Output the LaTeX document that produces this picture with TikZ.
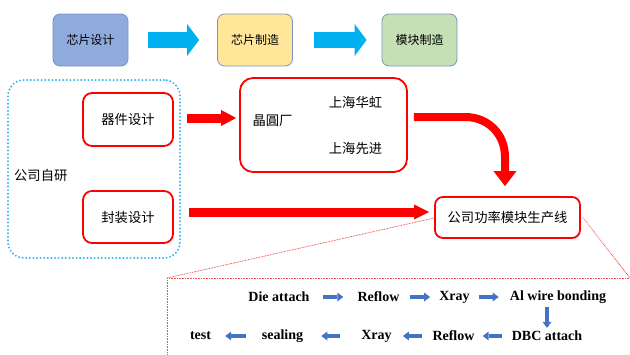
\documentclass[tikz,border=0pt]{standalone}
\usepackage{fontspec}
\setmainfont{Liberation Serif}
\newfontfamily\cjk{Noto Sans CJK SC}
\usetikzlibrary{arrows.meta,calc}
\definecolor{bonefill}{HTML}{8FAADC}
\definecolor{btwofill}{HTML}{FFE699}
\definecolor{bthreefill}{HTML}{C5E0B4}
\definecolor{topborder}{HTML}{7A93C2}
\definecolor{cyanarrow}{HTML}{00B0F0}
\definecolor{smallarrow}{HTML}{4472C4}
\definecolor{dotblue}{HTML}{33B5F0}
\definecolor{dotred}{HTML}{F05050}
\tikzset{
  topbox/.style={draw=topborder, line width=0.8pt, rounded corners=7pt,
    minimum width=75pt, minimum height=52pt, inner sep=0pt,
    font=\cjk\fontsize{12}{14}\selectfont},
  redbox/.style={draw=red, line width=1.8pt, rounded corners=9pt, inner sep=0pt},
  cjktext/.style={font=\cjk\fontsize{13.3}{16}\selectfont, inner sep=0pt},
  entext/.style={font=\bfseries\fontsize{14}{16}\selectfont, inner sep=0pt},
  bluearrow/.style={draw=cyanarrow, line width=16pt,
    -{Triangle[length=12pt,width=32pt,line width=0pt]}},
  redarrow/.style={draw=red, line width=9pt,
    -{Triangle[length=15pt,width=16pt,line width=0pt]}},
  smallarr/.style={draw=smallarrow, line width=4pt,
    -{Triangle[length=6pt,width=9pt,line width=0pt]}},
}
\begin{document}
\begin{tikzpicture}[x=1pt,y=-1pt]
\useasboundingbox (0,0) rectangle (630,354);
\clip (0,0) rectangle (630,354);
% top row
\node[topbox, fill=bonefill] (b1) at (90.5,40) {芯片设计};
\node[topbox, fill=btwofill] (b2) at (255,40) {芯片制造};
\node[topbox, fill=bthreefill] (b3) at (419.5,40) {模块制造};
\draw[bluearrow, shorten <=20pt, shorten >=18pt] (b1.east) -- (b2.west);
\draw[bluearrow, shorten <=21pt, shorten >=15pt] (b2.east) -- (b3.west);
% own design group
\node[draw=dotblue, line width=2.2pt, dash pattern=on 0pt off 3.6pt, line cap=round,
  rounded corners=16pt, minimum width=172pt, minimum height=178pt] (own) at (94,169) {};
\node[cjktext, anchor=west] (ownlbl) at (14,175) {公司自研};
\node[redbox, minimum width=90pt, minimum height=53pt, font=\cjk\fontsize{13.3}{16}\selectfont] (dev) at (128,119.5) {器件设计};
\node[redbox, minimum width=90pt, minimum height=52pt, font=\cjk\fontsize{13.3}{16}\selectfont] (pkg) at (128,217) {封装设计};
% fab
\node[redbox, rounded corners=13pt, minimum width=167pt, minimum height=94pt] (fab) at (323.5,125) {};
\node[cjktext] (fabl) at (272.5,121) {晶圓厂};
\node[cjktext] (hh) at (355.5,102) {上海华虹};
\node[cjktext] (xj) at (355.5,148) {上海先进};
% production line
\node[redbox, rounded corners=8pt, minimum width=145pt, minimum height=41pt, font=\cjk\fontsize{13.3}{16}\selectfont] (line) at (507.5,217.5) {公司功率模块生产线};
% red arrows
\draw[redarrow, shorten <=13pt, shorten >=3pt] ([yshift=1.5pt]dev.east) -- ([yshift=1.5pt]dev.east -| fab.west);
\draw[redarrow, -{Triangle[length=15pt,width=15pt,line width=0pt]}, shorten <=15pt, shorten >=5pt]
  ([yshift=5pt]pkg.east) -- ([yshift=5pt]pkg.east -| line.west);
\coordinate (cs) at ($(fab.east |- 0,117)+(6,0)$);
\coordinate (ce) at ($(line.north)+(-2.5,-10)$);
\draw[draw=red, line width=8pt, -{Triangle[length=15pt,width=23pt,line width=0pt]}]
  (cs) -- (465,117) .. controls (488,117) and (505,134) .. (505,157) -- (ce);
% zoom lines and dotted frame
\coordinate (fl) at (167,278);
\coordinate (fr) at (630,278);
\draw[dotred, line width=0.8pt, dash pattern=on 0.8pt off 0.8pt] (fl) -- ([yshift=-0.5pt]line.west);
\draw[dotred, line width=0.8pt, dash pattern=on 0.8pt off 0.8pt] ([xshift=2pt]line.east) -- (fr);
\draw[dotred, line width=0.9pt, dash pattern=on 0.8pt off 0.8pt] (167,380) -- (fl) -- (fr) -- (640,278);
% process flow
\node[entext] (s1) at (279,297) {Die attach};
\node[entext] (s2) at (378.5,297) {Reflow};
\node[entext] (s3) at (454.5,297) {Xray};
\node[entext] (s4) at (558,297) {Al wire bonding};
\node[entext] (s5) at (547,336) {DBC attach};
\node[entext] (s6) at (453.5,336) {Reflow};
\node[entext] (s7) at (376.5,336) {Xray};
\node[entext] (s8) at (282.5,336) {sealing};
\node[entext] (s9) at (200.5,336) {test};
\draw[smallarr, shorten <=13pt, shorten >=14pt] (s1.east) -- (s2.west);
\draw[smallarr, shorten <=10pt, shorten >=9pt] (s2.east) -- (s3.west);
\draw[smallarr, shorten <=9pt, shorten >=11pt] (s3.east) -- (s4.west);
\draw[smallarr, line width=3.5pt, shorten <=3pt, shorten >=3pt] (s5.north |- s4.south) -- (s5.north);
\draw[smallarr, shorten <=10pt, shorten >=8pt] (s5.west) -- (s6.east);
\draw[smallarr, shorten <=10pt, shorten >=11pt] (s6.west) -- (s7.east);
\draw[smallarr, shorten <=21pt, shorten >=18pt] (s7.west) -- (s8.east);
\draw[smallarr, shorten <=16pt, shorten >=14pt] (s8.west) -- (s9.east);
\end{tikzpicture}
\end{document}
